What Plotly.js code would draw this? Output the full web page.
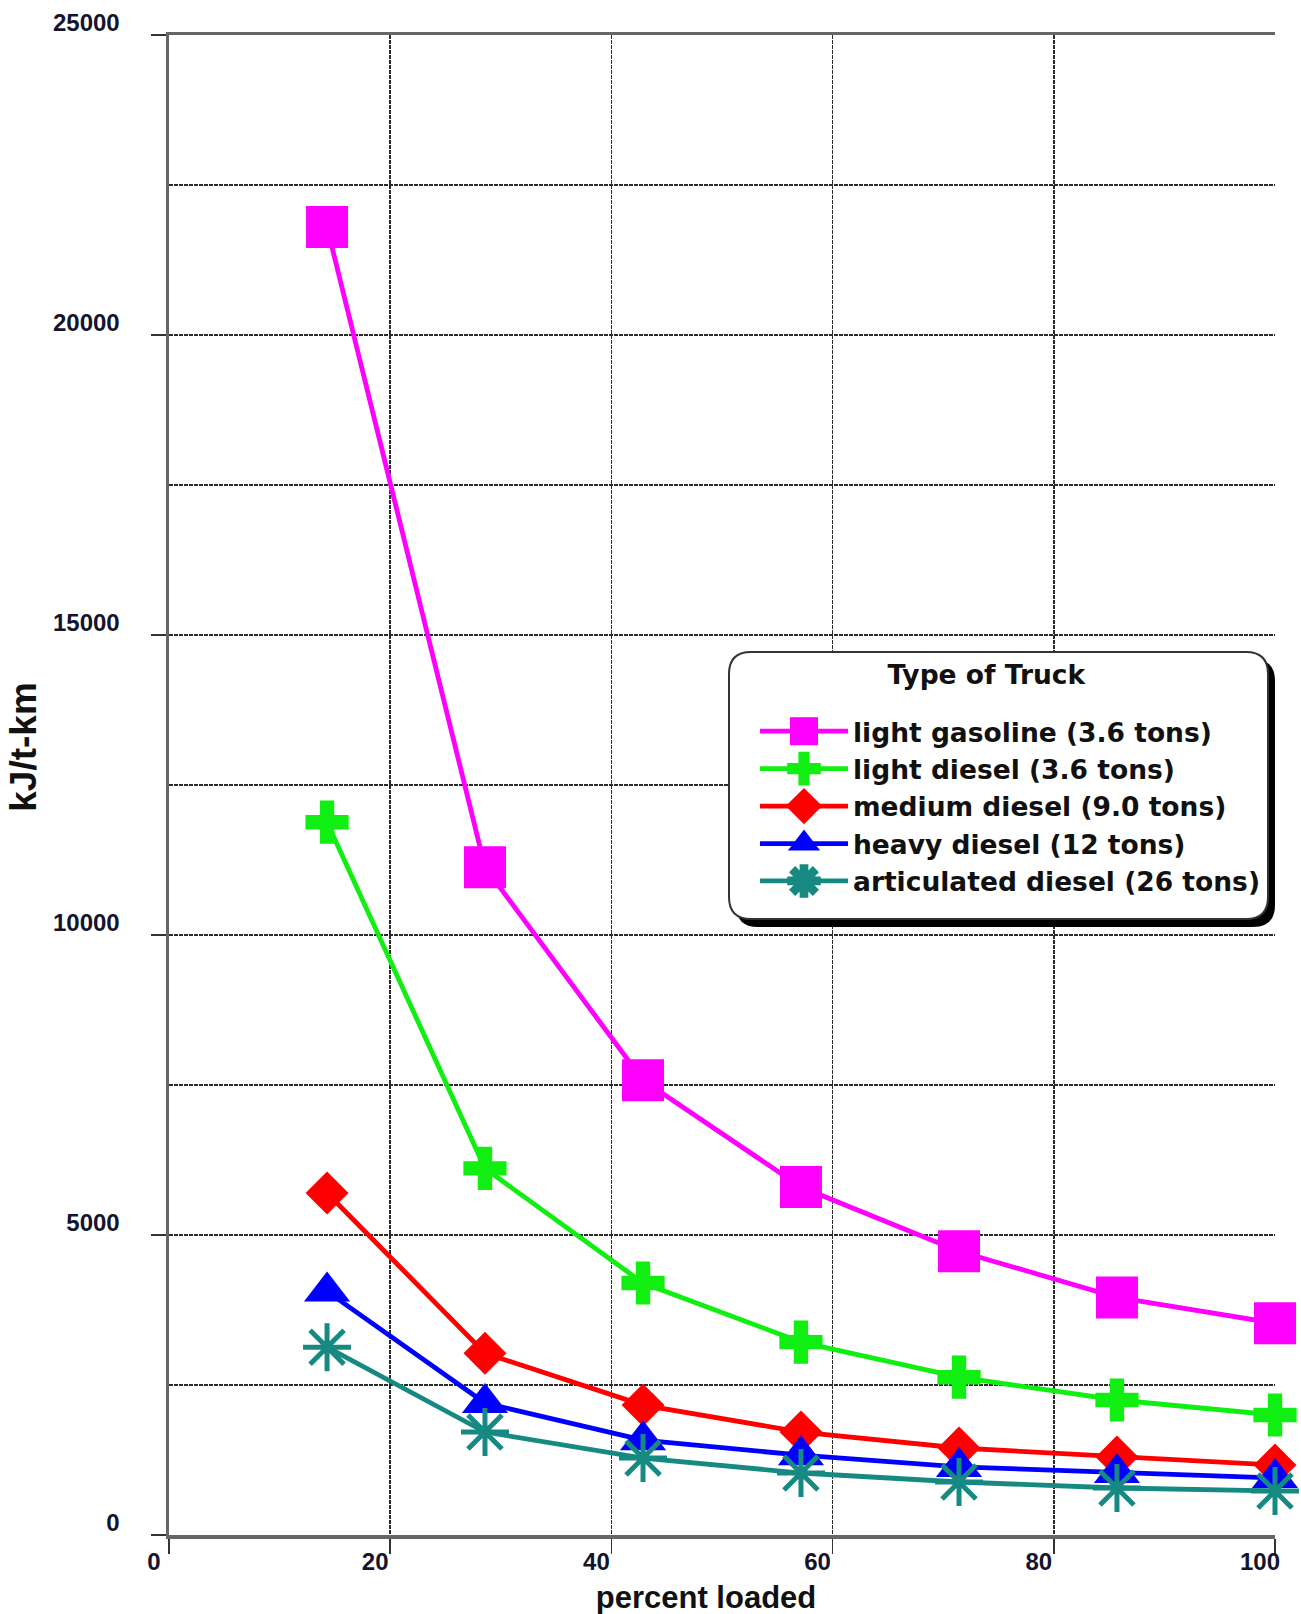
<!DOCTYPE html>
<html>
<head>
<meta charset="utf-8">
<script src="https://cdn.plot.ly/plotly-3.0.1.min.js"></script>
<style>
  html, body { margin: 0; padding: 0; background: #ffffff; }
  #chart { width: 1301px; height: 1614px; }
</style>
</head>
<body>
<div id="chart"></div>
<script>
// ---- data ----
const percentLoaded = [14.29, 28.57, 42.86, 57.14, 71.43, 85.71, 100];
const lightGasoline = [21800, 11130, 7580, 5800, 4730, 3960, 3530];
const lightDiesel   = [11880, 6110, 4200, 3215, 2630, 2250, 2000];
const mediumDiesel  = [5700, 3030, 2165, 1716, 1450, 1300, 1166];
const heavyDiesel   = [4060, 2200, 1580, 1330, 1135, 1035, 950];
const articulatedDiesel = [3130, 1716, 1282, 1033, 883, 783, 733];

const seriesNames = [
  'light gasoline (3.6 tons)',
  'light diesel (3.6 tons)',
  'medium diesel (9.0 tons)',
  'heavy diesel (12 tons)',
  'articulated diesel (26 tons)'
];
const legendTitle = 'Type of Truck';
const xTitle = 'percent loaded';
const yTitle = 'kJ/t-km';
const xTickVals = [0, 20, 40, 60, 80, 100];
const xTickText = ['0', '20', '40', '60', '80', '100'];
const yTickVals = [0, 5000, 10000, 15000, 20000, 25000];
const yTickText = ['0', '5000', '10000', '15000', '20000', '25000'];

const FONT = '"Liberation Sans", Arial, Helvetica, sans-serif';
const LEGFONT = '"DejaVu Sans", "Liberation Sans", Arial, sans-serif';

function series(y, name, color, symbol, size, extra) {
  const m = Object.assign({ symbol: symbol, size: size, color: color, line: { width: 0, color: color } }, extra || {});
  return {
    type: 'scatter', mode: 'lines+markers', x: percentLoaded, y: y, name: name,
    line: { color: color, width: 4.8 },
    marker: m,
    cliponaxis: false
  };
}

const traces = [
  series(lightGasoline, seriesNames[0], '#ff00ff', 'square', 42),
  series(lightDiesel, seriesNames[1], '#11ee11', 'cross', 36),
  series(mediumDiesel, seriesNames[2], '#ff0000', 'diamond', 33),
  series(heavyDiesel, seriesNames[3], '#0000ff', 'triangle-up', 40),
  series(articulatedDiesel, seriesNames[4], '#168a82', 'asterisk-open', 40, { line: { width: 5, color: '#168a82' } })
];

// plot-area geometry (pixels) for the decorative legend box
const W = 1301, H = 1614;
const M = { l: 169, r: 26, t: 35, b: 79 };
const pw = W - M.l - M.r, ph = H - M.t - M.b;
function px2x(p) { return (p - M.l) / pw; }
function py2y(p) { return (H - M.b - p) / ph; }
function roundRect(x0, y0, x1, y1, r) {
  const P = (x, y) => px2x(x).toFixed(5) + ',' + py2y(y).toFixed(5);
  return 'M' + P(x0 + r, y0) + ' L' + P(x1 - r, y0) + ' Q' + P(x1, y0) + ' ' + P(x1, y0 + r) +
         ' L' + P(x1, y1 - r) + ' Q' + P(x1, y1) + ' ' + P(x1 - r, y1) +
         ' L' + P(x0 + r, y1) + ' Q' + P(x0, y1) + ' ' + P(x0, y1 - r) +
         ' L' + P(x0, y0 + r) + ' Q' + P(x0, y0) + ' ' + P(x0 + r, y0) + ' Z';
}
const box = { x0: 729, y0: 652, x1: 1268, y1: 919, r: 22 };

const layout = {
  width: W, height: H,
  margin: M,
  paper_bgcolor: '#ffffff', plot_bgcolor: '#ffffff',
  font: { family: FONT, size: 24, color: '#111111', weight: 'bold' },
  showlegend: true,
  xaxis: {
    range: [0, 100], autorange: false,
    tickvals: xTickVals, ticktext: xTickText,
    ticks: 'outside', ticklen: 15, tickwidth: 1.5, tickcolor: '#333333',
    ticklabelshift: -15, ticklabelstandoff: -12,
    tickfont: { family: FONT, size: 24, color: '#14142e', weight: 'bold' },
    showgrid: true, gridcolor: '#2a2a2a', gridwidth: 1.5, griddash: '4px,1px',
    showline: true, linecolor: '#666666', linewidth: 3.5, mirror: true,
    zeroline: false,
    title: { text: xTitle, font: { family: FONT, size: 31, color: '#111111', weight: 'bold' }, standoff: 13 }
  },
  yaxis: {
    range: [0, 25000], autorange: false,
    tickvals: yTickVals, ticktext: yTickText,
    ticks: 'outside', ticklen: 15, tickwidth: 1.5, tickcolor: '#333333',
    ticklabelshift: -12, ticklabelstandoff: 26,
    tickfont: { family: FONT, size: 24, color: '#14142e', weight: 'bold' },
    showgrid: true, gridcolor: '#2a2a2a', gridwidth: 1.5, griddash: '4px,1px',
    minor: { dtick: 2500, tick0: 0, showgrid: true, gridcolor: '#2a2a2a', gridwidth: 1.5, griddash: '4px,1px', ticks: '' },
    showline: true, linecolor: '#666666', linewidth: 3.5, mirror: false,
    zeroline: false,
    title: { text: yTitle, font: { family: FONT, size: 37, color: '#111111', weight: 'bold' }, standoff: 6 }
  },
  legend: {
    x: px2x(755), xanchor: 'left',
    y: py2y(673), yanchor: 'top',
    bgcolor: 'rgba(0,0,0,0)', borderwidth: 0,
    itemwidth: 88,
    font: { family: LEGFONT, size: 26.5, color: '#111111', weight: 'bold' },
    title: { text: legendTitle, side: 'top center', font: { family: LEGFONT, size: 26.5, color: '#111111', weight: 'bold' } },
    itemclick: false, itemdoubleclick: false
  },
  shapes: [
    { type: 'path', xref: 'paper', yref: 'paper', layer: 'above',
      path: roundRect(box.x0 + 7, box.y0 + 7, box.x1 + 7, box.y1 + 8, box.r),
      fillcolor: '#000000', line: { width: 0 } },
    { type: 'path', xref: 'paper', yref: 'paper', layer: 'above',
      path: roundRect(box.x0, box.y0, box.x1, box.y1, box.r),
      fillcolor: '#ffffff', line: { width: 2, color: '#333333' } }
  ]
};

Plotly.newPlot('chart', traces, layout, { displayModeBar: false, staticPlot: true }).then(function (gd) {
  // let the legend title sit above the legend's own clip region
  gd.querySelectorAll('.legend, .legend *').forEach(function (e) {
    if (e.hasAttribute('clip-path')) e.removeAttribute('clip-path');
  });
  // enlarge legend symbols to match the reference's big legend markers
  gd.querySelectorAll('.legend .legendpoints path.scatterpts').forEach(function (p) {
    const t = p.getAttribute('transform') || '';
    p.setAttribute('transform', t + ' scale(1.75)');
  });
  // reference has extra space between legend title and entries, and the title sits left of centre
  gd.querySelectorAll('.legend .legendtitletext').forEach(function (t) {
    t.setAttribute('transform', 'translate(-23,-23)');
  });
  // reference axis titles sit slightly off-centre
  const yt = gd.querySelector('.g-ytitle');
  if (yt) yt.setAttribute('transform', 'translate(0,-38)');
  const xt = gd.querySelector('.g-xtitle');
  if (xt) xt.setAttribute('transform', 'translate(-16,0)');
});
</script>
</body>
</html>
